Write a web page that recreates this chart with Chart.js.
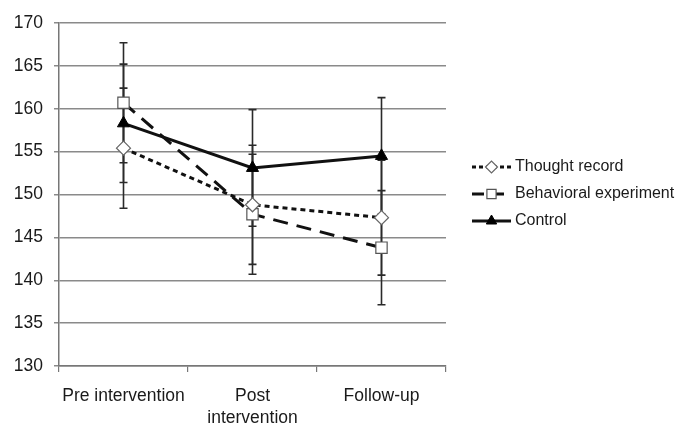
<!DOCTYPE html>
<html>
<head>
<meta charset="utf-8">
<script src="https://cdn.jsdelivr.net/npm/chart.js@4/dist/chart.umd.min.js"></script>
<style>
  html, body { margin: 0; padding: 0; background: #fff; }
  #wrap { width: 677px; height: 424px; }
</style>
</head>
<body>
<div id="wrap"><canvas id="chart" width="677" height="424"></canvas></div>
<script>
// Data
const categories = [['Pre intervention'], ['Post', 'intervention'], ['Follow-up']];
const seriesNames = ['Thought record', 'Behavioral experiment', 'Control'];
const thoughtRecord = [155.4, 148.8, 147.3];
const thoughtErr = [7.0, 6.95, 6.7];
const behavioral = [160.7, 147.7, 143.8];
const behavioralErr = [7.0, 7.0, 6.65];
const control = [158.3, 153.1, 154.5];
const controlErr = [6.9, 6.8, 6.8];
const yTicks = [130, 135, 140, 145, 150, 155, 160, 165, 170];

const FONT = '"Liberation Sans", Arial, sans-serif';
const INK = '#1a1a1a';

// Error bars, drawn under the lines and markers
const errorBars = {
    id: 'errorBars',
    beforeDatasetsDraw(chart) {
        const ctx = chart.ctx;
        const y = chart.scales.y;
        ctx.save();
        ctx.strokeStyle = '#2a2a2a';
        ctx.lineWidth = 1.6;
        chart.data.datasets.forEach((ds, i) => {
            const meta = chart.getDatasetMeta(i);
            meta.data.forEach((pt, j) => {
                const v = ds.data[j], e = ds.errors[j];
                const top = y.getPixelForValue(v + e);
                const bot = y.getPixelForValue(v - e);
                ctx.beginPath();
                ctx.moveTo(pt.x, top); ctx.lineTo(pt.x, bot);
                ctx.moveTo(pt.x - 4, top); ctx.lineTo(pt.x + 4, top);
                ctx.moveTo(pt.x - 4, bot); ctx.lineTo(pt.x + 4, bot);
                ctx.stroke();
            });
        });
        ctx.restore();
    }
};

// Legend with line sample + marker, like the original
const sideLegend = {
    id: 'sideLegend',
    afterDraw(chart) {
        const ctx = chart.ctx;
        const x0 = 472, x1 = 511, tx = 515;
        const rows = [167, 194, 221];
        ctx.save();
        chart.data.datasets.forEach((ds, i) => {
            const yy = rows[i];
            ctx.strokeStyle = ds.borderColor;
            ctx.lineWidth = ds.borderWidth;
            ctx.setLineDash(ds.legendDash);
            ctx.beginPath();
            ctx.moveTo(x0, yy); ctx.lineTo(x1, yy);
            ctx.stroke();
            ctx.setLineDash([]);
            ctx.fillStyle = ds.pointBackgroundColor;
            ctx.strokeStyle = ds.pointBorderColor;
            ctx.lineWidth = ds.pointBorderWidth;
            Chart.helpers.drawPoint(ctx, {
                pointStyle: ds.pointStyle, radius: ds.legendRadius, rotation: 0, borderWidth: ds.pointBorderWidth
            }, (x0 + x1) / 2, yy);
            ctx.fillStyle = INK;
            ctx.font = '16px ' + FONT;
            ctx.textBaseline = 'middle';
            ctx.fillText(ds.label, tx, yy);
        });
        ctx.restore();
    }
};

new Chart(document.getElementById('chart'), {
    type: 'line',
    data: {
        labels: categories,
        datasets: [
            {
                label: seriesNames[0], data: thoughtRecord, errors: thoughtErr,
                borderColor: '#111', borderWidth: 3, borderDash: [5, 4], legendDash: [4, 3],
                pointStyle: 'rectRot', pointRadius: 7, legendRadius: 6,
                pointBackgroundColor: '#fff', pointBorderColor: '#666', pointBorderWidth: 1.2
            },
            {
                label: seriesNames[1], data: behavioral, errors: behavioralErr,
                borderColor: '#111', borderWidth: 3, borderDash: [15, 9], legendDash: [12, 8],
                pointStyle: 'rect', pointRadius: 8, legendRadius: 6.5,
                pointBackgroundColor: '#fff', pointBorderColor: '#555', pointBorderWidth: 1.2
            },
            {
                label: seriesNames[2], data: control, errors: controlErr,
                borderColor: '#111', borderWidth: 3, borderDash: [], legendDash: [],
                pointStyle: 'triangle', pointRadius: 7, legendRadius: 6,
                pointBackgroundColor: '#000', pointBorderColor: '#000', pointBorderWidth: 1
            }
        ]
    },
    options: {
        responsive: false,
        animation: false,
        layout: { padding: { top: 23, right: 231, left: 0, bottom: 0 } },
        plugins: { legend: { display: false }, tooltip: { enabled: false } },
        scales: {
            x: {
                offset: true,
                grid: { offset: true, drawOnChartArea: false, drawTicks: true, tickLength: 6, color: '#777', lineWidth: 1.2 },
                border: { display: true, color: '#777', width: 1.5 },
                ticks: { color: INK, font: { family: FONT, size: 17.5, lineHeight: 1.25 }, padding: 13, maxRotation: 0 },
                afterFit: s => { s.height = 58; }
            },
            y: {
                min: 130, max: 170,
                afterBuildTicks: s => { s.ticks = yTicks.map(v => ({ value: v })); },
                grid: { color: '#8a8a8a', lineWidth: 1.5, drawTicks: true, tickLength: 5 },
                border: { display: true, color: '#777', width: 1.5 },
                ticks: { color: INK, font: { family: FONT, size: 17.5 }, padding: 11 },
                afterFit: s => { s.width = 59; }
            }
        }
    },
    plugins: [errorBars, sideLegend]
});
</script>
</body>
</html>
